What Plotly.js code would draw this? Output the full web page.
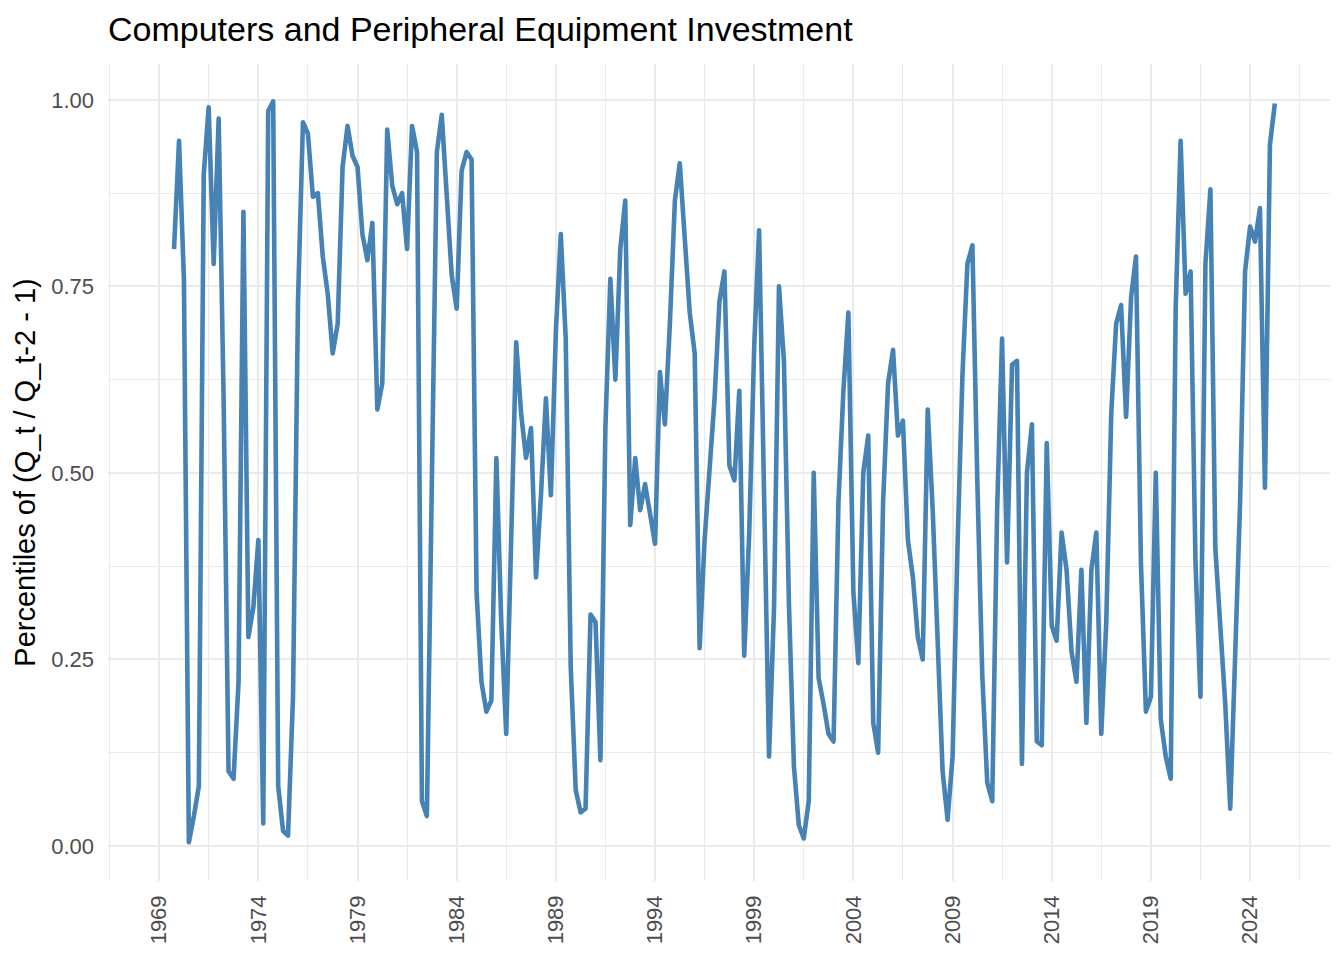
<!DOCTYPE html>
<html><head><meta charset="utf-8">
<script src="https://cdn.plot.ly/plotly-3.0.1.min.js"></script>
<style>
html,body{margin:0;padding:0;background:#fff;}
#chart{width:1344px;height:960px;}
.scatterlayer .js-line{stroke-linejoin:round;}
</style></head><body><div id="chart"></div>
<script>
// First observation: 1969 Q4 (quarter-start dates), quarterly thereafter
const startYear = 1969;
const startMonth = 10;

// Percentile of two-quarter growth
const percentile = [
  0.80, 0.945, 0.76, 0.005, 0.04, 0.08, 0.90, 0.99, 0.78, 0.975,
  0.60, 0.10, 0.09, 0.22, 0.85, 0.28, 0.32, 0.41, 0.03, 0.985,
  0.998, 0.08, 0.02, 0.014, 0.20, 0.73, 0.97, 0.955, 0.87, 0.875,
  0.79, 0.74, 0.66, 0.70, 0.91, 0.965, 0.925, 0.91, 0.82, 0.785,
  0.835, 0.585, 0.62, 0.96, 0.885, 0.86, 0.875, 0.80, 0.965, 0.93,
  0.06, 0.04, 0.49, 0.93, 0.98, 0.88, 0.765, 0.72, 0.905, 0.93,
  0.92, 0.34, 0.22, 0.18, 0.195, 0.52, 0.30, 0.15, 0.41, 0.675,
  0.58, 0.52, 0.56, 0.36, 0.47, 0.60, 0.47, 0.69, 0.82, 0.68,
  0.24, 0.075, 0.045, 0.05, 0.31, 0.30, 0.115, 0.56, 0.76, 0.625,
  0.80, 0.865, 0.43, 0.52, 0.45, 0.485, 0.445, 0.405, 0.635, 0.565,
  0.70, 0.865, 0.915, 0.825, 0.715, 0.66, 0.265, 0.41, 0.51, 0.60,
  0.73, 0.77, 0.51, 0.49, 0.61, 0.255, 0.42, 0.67, 0.825, 0.46,
  0.12, 0.32, 0.75, 0.65, 0.325, 0.107, 0.028, 0.01, 0.06, 0.50,
  0.225, 0.19, 0.15, 0.14, 0.46, 0.61, 0.715, 0.34, 0.245, 0.50,
  0.55, 0.165, 0.125, 0.46, 0.62, 0.665, 0.55, 0.57, 0.41, 0.36,
  0.28, 0.25, 0.585, 0.45, 0.26, 0.10, 0.035, 0.12, 0.40, 0.63,
  0.78, 0.805, 0.49, 0.23, 0.085, 0.06, 0.45, 0.68, 0.38, 0.645,
  0.65, 0.11, 0.50, 0.565, 0.14, 0.135, 0.54, 0.295, 0.275, 0.42,
  0.37, 0.26, 0.22, 0.37, 0.165, 0.37, 0.42, 0.15, 0.30, 0.58,
  0.70, 0.725, 0.575, 0.735, 0.79, 0.38, 0.18, 0.20, 0.50, 0.17,
  0.12, 0.09, 0.72, 0.945, 0.74, 0.77, 0.38, 0.20, 0.78, 0.88,
  0.40, 0.30, 0.19, 0.05, 0.25, 0.46, 0.77, 0.83, 0.81, 0.855,
  0.48, 0.94, 0.995
];

const yTickVals = [0, 0.25, 0.5, 0.75, 1];
const yTickText = ['0.00', '0.25', '0.50', '0.75', '1.00'];

function quarterDates(n) {
  const out = [];
  for (let i = 0; i < n; i++) {
    const m = startMonth - 1 + 3 * i;
    const y = startYear + Math.floor(m / 12);
    const mm = (m % 12) + 1;
    out.push(y + '-' + String(mm).padStart(2, '0') + '-01');
  }
  return out;
}
const dates = quarterDates(percentile.length);

const font = 'Liberation Sans, Arial, Helvetica, sans-serif';

const trace = {
  type: 'scatter', mode: 'lines',
  x: dates, y: percentile,
  line: {color: '#4682B4', width: 4.6, shape: 'linear'},
  hoverinfo: 'x+y'
};

const layout = {
  width: 1344, height: 960,
  paper_bgcolor: '#ffffff', plot_bgcolor: '#ffffff',
  margin: {l: 108, r: 14, t: 64, b: 79},
  showlegend: false,
  font: {family: font, color: '#4D4D4D'},
  title: {
    text: 'Computers and Peripheral Equipment Investment',
    font: {family: font, size: 34, color: '#000000'},
    x: 0, xref: 'paper', xanchor: 'left',
    y: 1 - 29 / 960, yref: 'container', yanchor: 'middle'
  },
  xaxis: {
    type: 'date',
    range: ['1966-06-03', '2028-01-12'],
    tick0: '1969-01-01', dtick: 'M60', tickformat: '%Y',
    tickangle: -90,
    tickfont: {family: font, size: 22, color: '#4D4D4D'},
    ticks: '', ticklabelstandoff: 9,
    showgrid: true, gridcolor: '#EBEBEB', gridwidth: 2,
    minor: {tick0: '1966-07-02', dtick: 'M30', showgrid: true, gridcolor: '#EBEBEB', gridwidth: 1},
    zeroline: false, showline: false
  },
  yaxis: {
    range: [-0.047, 1.048],
    tickmode: 'array', tickvals: yTickVals, ticktext: yTickText,
    tickfont: {family: font, size: 22, color: '#4D4D4D'},
    ticks: '', ticklabelstandoff: 13,
    showgrid: true, gridcolor: '#EBEBEB', gridwidth: 2,
    minor: {tick0: 0.125, dtick: 0.25, showgrid: true, gridcolor: '#EBEBEB', gridwidth: 1},
    zeroline: false, showline: false,
    title: {text: 'Percentiles of (Q_t / Q_t-2 - 1)', font: {family: font, size: 29, color: '#000000'}, standoff: 7}
  }
};

Plotly.newPlot('chart', [trace], layout, {displayModeBar: false, staticPlot: true});
</script></body></html>
